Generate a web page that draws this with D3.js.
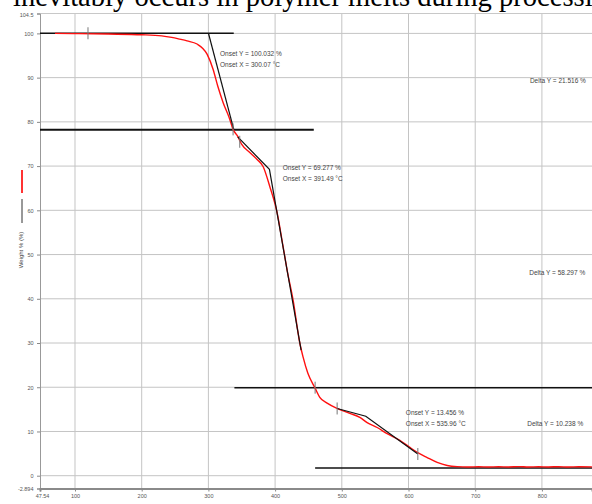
<!DOCTYPE html>
<html><head><meta charset="utf-8">
<script src="https://cdn.jsdelivr.net/npm/d3@7"></script>
<style>html,body{margin:0;padding:0;background:#fff;overflow:hidden}svg{display:block}</style>
</head><body>
<script>
// ---- data ----
const xDomain = [47.54, 875.1];
const yDomain = [-2.894, 104.5];
const xTicks = [100, 200, 300, 400, 500, 600, 700, 800];
const xTickLabels = ["100", "200", "300", "400", "500", "600", "700", "800"];
const yTicks = [0, 10, 20, 30, 40, 50, 60, 70, 80, 90, 100];
const yEndLabels = ["104.5", "-2.894"];
const xStartLabel = "47.54";

// weight % curve (temperature °C, weight %)
const tempC = [70, 100, 150, 200, 230, 245, 257, 268, 283, 298, 307, 314, 322, 332, 337, 344, 350, 362, 373, 382, 392, 403, 412, 418, 427, 437, 442, 449, 460, 467, 478, 493, 512, 527, 538, 553, 568, 587, 602, 613, 628, 643, 658, 673, 690, 705, 720, 735, 750, 765, 780, 795, 810, 825, 840, 855, 875];
const weightPct = [100.0, 99.95, 99.85, 99.7, 99.45, 99.1, 98.7, 98.3, 97.6, 95.3, 91.9, 88.1, 84.4, 80.6, 78.3, 76.7, 74.9, 73.1, 71.5, 69.9, 65.4, 59.5, 51.8, 46.5, 39.7, 30.0, 26.8, 23.2, 19.8, 17.7, 16.4, 15.2, 14.1, 13.2, 12.0, 10.9, 9.5, 8.0, 6.4, 5.3, 4.1, 3.0, 2.3, 2.05, 1.98, 2.03, 1.96, 2.02, 1.98, 2.05, 1.97, 2.02, 1.98, 2.04, 1.96, 2.02, 1.99];

// onset construction lines (black), each as [T, W] pairs
const baseline1 = [[47.54, 100.032], [338, 100.032]];
const tangent1 = [[300.07, 100.032], [338, 78.3]];
const baseline2 = [[47.54, 78.2], [458, 78.2]];
const tangent2 = [[344, 76.6], [391.49, 69.277], [439, 28.4]];
const baseline3 = [[339, 19.9], [875.1, 19.9]];
const tangent3 = [[493, 15.2], [535.96, 13.456], [614, 4.9]];
const baseline4 = [[460, 1.75], [875.1, 1.75]];
const markerTicks = [[119.5, 100.032], [337, 78.3], [347, 75.5], [460, 19.9], [493, 15.2], [614, 4.9]];

// annotations [T, W, text]
const annotations = [
  [317.5, 95.0, "Onset Y = 100.032 %"],
  [317.5, 92.5, "Onset X = 300.07 °C"],
  [411.5, 69.2, "Onset Y = 69.277 %"],
  [411.5, 66.7, "Onset X = 391.49 °C"],
  [596, 13.7, "Onset Y = 13.456 %"],
  [596, 11.2, "Onset X = 535.96 °C"],
  [782, 88.8, "Delta Y = 21.516 %"],
  [781, 45.3, "Delta Y = 58.297 %"],
  [778, 11.3, "Delta Y = 10.238 %"]
];
const yLabel = "Weight % (%)";
const headline = "inevitably occurs in polymer melts during processing";

// ---- drawing ----
const W = 592, H = 504;
const svg = d3.select("body").append("svg").attr("width", W).attr("height", H);
const x = d3.scaleLinear().domain(xDomain).range([40, 592]);
const y = d3.scaleLinear().domain(yDomain).range([488.5, 13.5]);

svg.append("text").attr("x", 13).attr("y", 5.5)
  .attr("font-family", "Liberation Serif, Times New Roman, serif")
  .attr("font-size", 28.6).attr("fill", "#000")
  .text(headline);

// grid
const g = svg.append("g");
g.selectAll(".vg").data(xTicks).join("line")
  .attr("x1", d => x(d)).attr("x2", d => x(d))
  .attr("y1", y(yDomain[1])).attr("y2", y(yDomain[0]))
  .attr("stroke", "#c4c4c4").attr("stroke-width", 1);
g.selectAll(".hg").data(yTicks).join("line")
  .attr("x1", x(xDomain[0])).attr("x2", W)
  .attr("y1", d => y(d)).attr("y2", d => y(d))
  .attr("stroke", "#c4c4c4").attr("stroke-width", 1);
g.append("line").attr("x1", x(xDomain[0])).attr("x2", W)
  .attr("y1", y(yDomain[1])).attr("y2", y(yDomain[1]))
  .attr("stroke", "#c8c8c8");

// axes
const yAxis = d3.axisLeft(y).tickValues(yTicks.concat(yDomain)).tickSize(3)
  .tickFormat(d => d === yDomain[1] ? yEndLabels[0] : d === yDomain[0] ? yEndLabels[1] : d3.format("d")(d));
const ya = svg.append("g").attr("transform", `translate(${x(xDomain[0])},0)`).call(yAxis);
ya.select(".domain").attr("stroke", "#999");
ya.selectAll(".tick line").attr("stroke", "#888");
ya.selectAll("text").attr("font-family", "Liberation Sans, Arial, sans-serif")
  .attr("font-size", 5.5).attr("fill", "#555").attr("dx", -0.5);
ya.selectAll(".tick").filter(d => d === yDomain[1]).select("text").attr("dy", "0.5em");

const xAxis = d3.axisBottom(x).tickValues([xDomain[0]].concat(xTicks)).tickSize(3)
  .tickFormat(d => d === xDomain[0] ? xStartLabel : xTickLabels[xTicks.indexOf(d)]);
const xa = svg.append("g").attr("transform", `translate(0,${y(yDomain[0])})`).call(xAxis);
xa.select(".domain").attr("stroke", "#8a8a8a").attr("stroke-width", 2);
xa.selectAll(".tick line").attr("stroke", "#888");
xa.selectAll("text").attr("font-family", "Liberation Sans, Arial, sans-serif")
  .attr("font-size", 5.5).attr("fill", "#555").attr("dy", "0.6em");
xa.selectAll(".tick").filter(d => d === xDomain[0]).select("text").attr("dx", 2);

// y label + legend marks
svg.append("line").attr("x1", 22).attr("x2", 22).attr("y1", 170).attr("y2", 193)
  .attr("stroke", "#ff3333").attr("stroke-width", 2);
svg.append("line").attr("x1", 22).attr("x2", 22).attr("y1", 199).attr("y2", 223)
  .attr("stroke", "#333").attr("stroke-width", 1);
svg.append("text").attr("transform", "translate(23,250) rotate(-90)")
  .attr("text-anchor", "middle")
  .attr("font-family", "Liberation Sans, Arial, sans-serif").attr("font-size", 6)
  .attr("fill", "#444").text(yLabel);

// lines
const line = d3.line().x(d => x(d[0])).y(d => y(d[1]));
const seg = (pts, w, c) => svg.append("path").attr("d", line(pts)).attr("fill", "none")
  .attr("stroke", c || "#111").attr("stroke-width", w);

seg(baseline1, 1.4);
seg(baseline2, 2);
seg(baseline3, 1.4);
seg(baseline4, 1.4);

const curve = d3.zip(tempC, weightPct);
svg.append("path").attr("d", d3.line().curve(d3.curveMonotoneX).x(d => x(d[0])).y(d => y(d[1]))(curve))
  .attr("fill", "none").attr("stroke", "#ff1010").attr("stroke-width", 1.4);

seg(tangent1, 1.2);
seg(tangent2, 1.2);
seg(tangent3, 1.2);

svg.selectAll(".mk").data(markerTicks).join("line")
  .attr("x1", d => x(d[0])).attr("x2", d => x(d[0]))
  .attr("y1", d => y(d[1]) - 6).attr("y2", d => y(d[1]) + 6)
  .attr("stroke", "#777").attr("stroke-width", 1);

svg.selectAll(".ann").data(annotations).join("text")
  .attr("x", d => x(d[0])).attr("y", d => y(d[1]))
  .attr("font-family", "Liberation Sans, Arial, sans-serif").attr("font-size", 6.5)
  .attr("fill", "#444").text(d => d[2]);
</script>
</body></html>
